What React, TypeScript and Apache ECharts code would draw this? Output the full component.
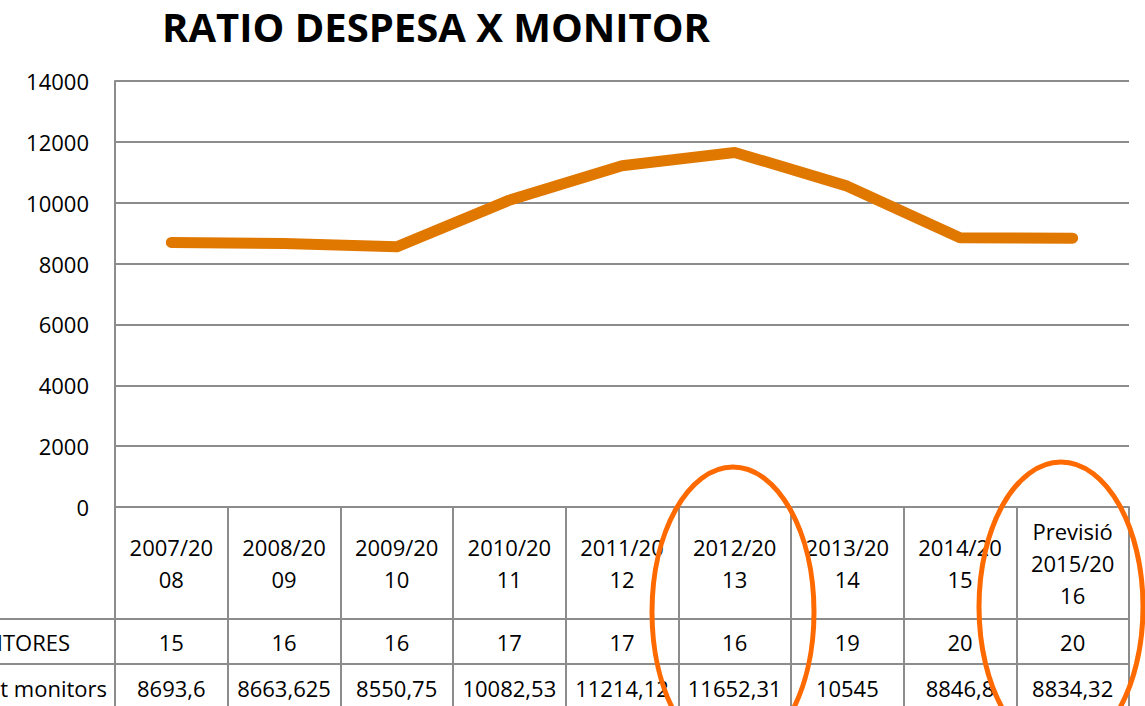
import React, { useEffect, useRef } from "react";
import * as echarts from "echarts";

const title = "RATIO DESPESA X MONITOR";
const categoryLabels = [
  "2007/20\n08",
  "2008/20\n09",
  "2009/20\n10",
  "2010/20\n11",
  "2011/20\n12",
  "2012/20\n13",
  "2013/20\n14",
  "2014/20\n15",
  "Previsió\n2015/20\n16",
];
const monitors = [15, 16, 16, 17, 17, 16, 19, 20, 20];
const costPerMonitor = [8693.6, 8663.625, 8550.75, 10082.53, 11214.12, 11652.31, 10545, 8846.8, 8834.32];
const rowLabels = ["Nº MONITORES", "Cost monitors"];
const yMin = 0;
const yMax = 14000;
const yInterval = 2000;

const FONT = "'Open Sans', sans-serif";
const GRID_COLOR = "#8c8c8c";
const LINE_COLOR = "#E07800";
const MARK_COLOR = "#FF6A00";

export default function App() {
  const ref = useRef<HTMLDivElement>(null);
  useEffect(() => {
    if (!ref.current) return;
    const chart = echarts.init(ref.current, undefined, { renderer: "svg" });
    const costLabels = costPerMonitor.map((v) => String(v).replace(".", ","));
    const baseX = {
      type: "category" as const,
      gridIndex: 0,
      position: "bottom" as const,
      boundaryGap: true,
    };
    chart.setOption({
      animation: false,
      backgroundColor: "#ffffff",
      title: {
        text: title,
        left: 436,
        textAlign: "center",
        top: 3,
        padding: 0,
        textStyle: { fontFamily: FONT, fontWeight: "bold", fontSize: 40, lineHeight: 46, color: "#000" },
      },
      grid: { left: 115, right: 16, top: 81, bottom: 199, containLabel: false },
      xAxis: [
        {
          ...baseX,
          data: categoryLabels,
          axisLine: { show: true, lineStyle: { color: GRID_COLOR, width: 2 } },
          axisTick: { show: true, interval: 0, length: 199, alignWithLabel: false, lineStyle: { color: GRID_COLOR, width: 2 } },
          axisLabel: {
            interval: 0,
            margin: 56,
            verticalAlign: "middle",
            lineHeight: 32,
            fontFamily: FONT,
            fontSize: 22,
            color: "#000",
          },
        },
        {
          ...baseX,
          data: monitors.map(String),
          axisLine: { show: false },
          axisTick: { show: false },
          axisLabel: { interval: 0, margin: 135, verticalAlign: "middle", fontFamily: FONT, fontSize: 22, color: "#000" },
        },
        {
          ...baseX,
          data: costLabels,
          axisLine: { show: false },
          axisTick: { show: false },
          axisLabel: { interval: 0, margin: 181, verticalAlign: "middle", fontFamily: FONT, fontSize: 22, color: "#000" },
        },
      ],
      yAxis: {
        type: "value",
        min: yMin,
        max: yMax,
        interval: yInterval,
        axisLine: { show: true, lineStyle: { color: GRID_COLOR, width: 2 } },
        axisTick: { show: false },
        splitLine: { show: true, lineStyle: { color: GRID_COLOR, width: 2 } },
        axisLabel: { margin: 26, fontFamily: FONT, fontSize: 22, color: "#000", formatter: (v: number) => String(v) },
      },
      series: [
        {
          type: "line",
          xAxisIndex: 0,
          data: costPerMonitor,
          symbol: "none",
          lineStyle: { color: LINE_COLOR, width: 11, cap: "round", join: "round" },
        },
      ],
      graphic: [
        { type: "line", shape: { x1: 0, y1: 619, x2: 1129, y2: 619 }, style: { stroke: GRID_COLOR, lineWidth: 2 } },
        { type: "line", shape: { x1: 0, y1: 664, x2: 1129, y2: 664 }, style: { stroke: GRID_COLOR, lineWidth: 2 } },
        {
          type: "text",
          x: 70,
          y: 642,
          style: { text: rowLabels[0], align: "right", verticalAlign: "middle", fontFamily: FONT, fontSize: 22, fill: "#000" },
        },
        {
          type: "text",
          x: 107,
          y: 688,
          style: { text: rowLabels[1], align: "right", verticalAlign: "middle", fontFamily: FONT, fontSize: 22, fill: "#000" },
        },
        {
          type: "ellipse",
          shape: { cx: 733, cy: 612, rx: 81, ry: 145 },
          style: { fill: "none", stroke: MARK_COLOR, lineWidth: 5 },
          z: 100,
        },
        {
          type: "ellipse",
          shape: { cx: 1061, cy: 607, rx: 82, ry: 145 },
          style: { fill: "none", stroke: MARK_COLOR, lineWidth: 5 },
          z: 100,
        },
      ],
    });
    return () => chart.dispose();
  }, []);
  return <div ref={ref} style={{ position: "fixed", left: 0, top: 0, width: 1145, height: 706 }} />;
}
